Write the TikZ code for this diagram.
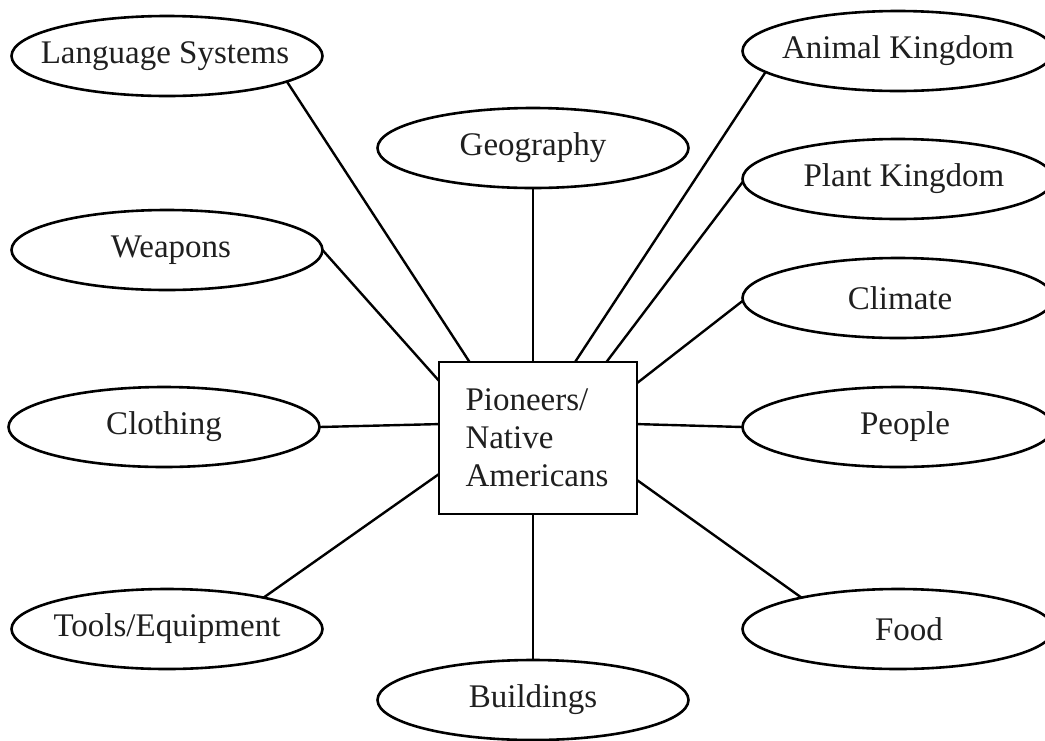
\documentclass[tikz,border=0pt]{standalone}
\usepackage{fontspec}
\setmainfont{Liberation Serif}
\usetikzlibrary{shapes.geometric}
\newcommand\ovaltext[2][0pt]{\makebox[0pt]{\hspace*{#1}#2}}
\begin{document}
\begin{tikzpicture}[x=1pt,y=-1pt,
  topic/.style={ellipse, draw, line width=2.6pt, minimum width=311pt, minimum height=80pt,
    inner sep=0pt, outer sep=0pt, font=\fontsize{33}{38}\selectfont, text=black!88},
  hub/.style={rectangle, draw, line width=2.6pt, minimum width=198pt, minimum height=152pt,
    inner sep=0pt, outer sep=0pt, align=left, text width=145pt,
    font=\fontsize{33}{38}\selectfont, text=black!88},
  link/.style={line width=2.4pt}]
\useasboundingbox (0,0) rectangle (1045,740);

\node[hub] (box) at (538,438) {Pioneers/\\Native\\Americans};

\node[topic] (lang)      at (167,56)  {\ovaltext[-4pt]{Language Systems}};
\node[topic] (geo)       at (533,148) {\ovaltext{Geography}};
\node[topic] (animal)    at (898,51)  {\ovaltext{Animal Kingdom}};
\node[topic] (plant)     at (898,179) {\ovaltext[12pt]{Plant Kingdom}};
\node[topic] (weapons)   at (167,250) {\ovaltext[8pt]{Weapons}};
\node[topic] (climate)   at (898,298) {\ovaltext[4pt]{Climate}};
\node[topic] (clothing)  at (164,427) {\ovaltext{Clothing}};
\node[topic] (people)    at (898,427) {\ovaltext[14pt]{People}};
\node[topic] (tools)     at (167,629) {\ovaltext{Tools/Equipment}};
\node[topic] (food)      at (898,629) {\ovaltext[22pt]{Food}};
\node[topic] (buildings) at (533,700) {\ovaltext{Buildings}};

\draw[link] (lang.-12.9)    -- (box.132.6);
\draw[link] (geo.south)     -- (geo.south |- box.north);
\draw[link] (animal.189.6)  -- (box.64.7);
\draw[link] (plant.181)     -- (box.48.6);
\draw[link] (climate.181)   -- (box.29.1);
\draw[link] (people.west)   -- (box.8);
\draw[link] (food.162.5)    -- (box.-23.5);
\draw[link] (buildings.north) -- (buildings.north |- box.south);
\draw[link] (tools.18.2)    -- (box.200);
\draw[link] (clothing.east) -- (box.172);
\draw[link] (weapons.east)  -- (box.150.5);
\end{tikzpicture}
\end{document}
